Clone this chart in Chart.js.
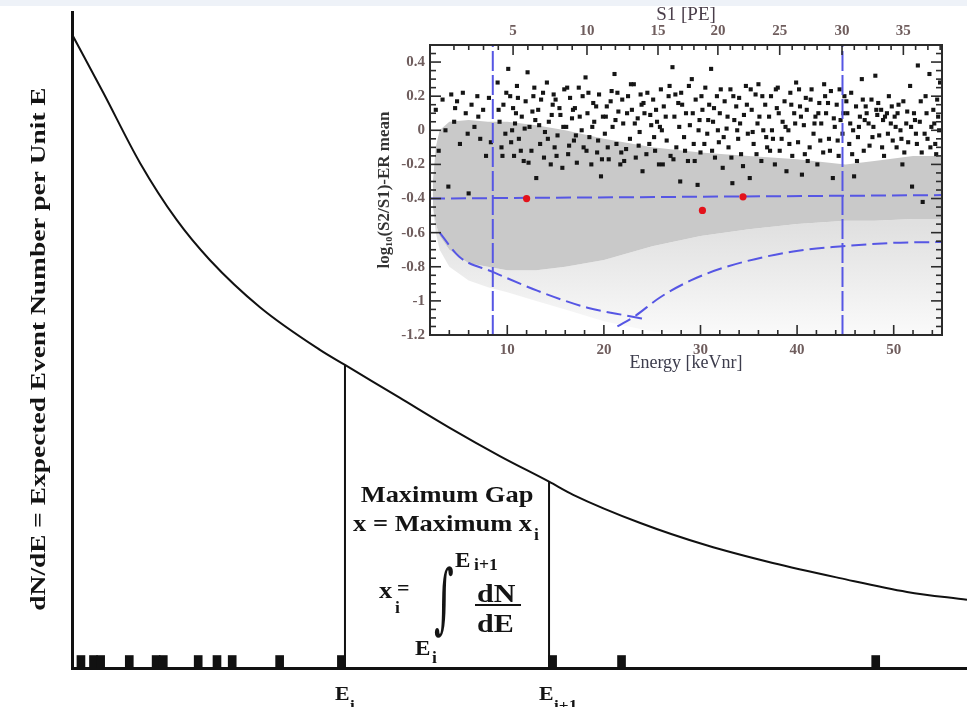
<!DOCTYPE html>
<html>
<head>
<meta charset="utf-8">
<script src="https://cdn.jsdelivr.net/npm/chart.js@4.4.0/dist/chart.umd.min.js"></script>
<style>
  html, body { margin: 0; padding: 0; background: #fff; overflow: hidden; }
  #main { position: absolute; left: 0; top: 0; }
  #strip { position: absolute; left: 0; top: 0; width: 967px; height: 6px; background: #eef2f8; }
  #inset { position: absolute; left: 372px; top: 6px; width: 595px; height: 371px; overflow: hidden; background: #fff; }
  #insetCanvas { position: absolute; left: 0; top: -6px; }
</style>
</head>
<body>
<div id="main"><canvas id="mainCanvas" width="967" height="707"></canvas></div>
<div id="strip"></div>
<div id="inset"><canvas id="insetCanvas" width="595" height="377"></canvas></div>
<script>
// ---- main sketch: expected rate dN/dE against energy (arbitrary units 0..100)
const curveE    = [0, 3.5, 7.6, 11.7, 15.4, 21.0, 27.7, 30.5, 36.6, 42.2, 47.8, 53.3, 56.0, 63.5, 70.9, 78.3, 85.8, 93.3, 100];
const curveRate = [96.6, 87.7, 77.0, 68.3, 62.2, 55.0, 48.5, 46.2, 41.2, 36.6, 32.3, 28.4, 26.4, 22.1, 18.7, 16.0, 13.7, 11.6, 10.4];
// observed events along the energy axis
const eventE = [1.0, 2.4, 3.2, 6.4, 9.4, 10.2, 14.1, 16.2, 17.9, 23.2, 30.1, 53.7, 61.4, 89.8];
// the maximum gap: E_i and E_i+1, and the curve height there
const gapEdges = [30.5, 53.3];
const gapTop   = [46.2, 28.4];
const gapSubs  = ['i', 'i+1'];

// ---- inset: log10(S2/S1) - ER mean against energy [keVnr]
const energyTicks = [10, 20, 30, 40, 50];
const ratioTicks  = [-1.2, -1, -0.8, -0.6, -0.4, -0.2, 0, 0.2, 0.4];
const s1Labels = [5, 10, 15, 20, 25, 30, 35];
const s1Energy = [10.6, 18.25, 25.6, 31.8, 38.2, 44.65, 51.0];
// grey calibration cloud (dense band and sparse tail)
const bandE      = [2.3, 2.6, 3.0, 4.0, 6.0, 8.0, 10.0, 13.0, 16.0, 20.0, 25.0, 30.0, 35.0, 40.0, 45.0, 48.0, 52.0, 55.0];
const bandTop    = [-0.3, -0.1, 0.0, 0.05, 0.06, 0.05, 0.05, 0.03, 0.0, -0.05, -0.1, -0.13, -0.15, -0.17, -0.2, -0.18, -0.15, -0.15];
const bandBottom = [-0.45, -0.55, -0.62, -0.7, -0.78, -0.8, -0.82, -0.82, -0.8, -0.76, -0.68, -0.62, -0.58, -0.55, -0.53, -0.53, -0.52, -0.52];
const tailBottom = [-0.45, -0.6, -0.7, -0.8, -0.88, -0.92, -0.95, -1.0, -1.05, -1.12, -1.18, -1.2, -1.2, -1.2, -1.2, -1.2, -1.2, -1.2];
// blue cut lines
const cutE = [2, 55];
const cutRatio = [-0.4, -0.38];
const windowE = [8.5, 44.7];
const lowCutE     = [3.0, 5.0, 8.5, 13.1, 18.3, 22.7, 24.5];
const lowCutRatio = [-0.6, -0.74, -0.83, -0.94, -1.04, -1.09, -1.11];
const riseCutE     = [21.4, 23.2, 25.8, 29.0, 32.7, 39.6, 44.7, 49.9, 55];
const riseCutRatio = [-1.15, -1.09, -0.98, -0.88, -0.80, -0.71, -0.68, -0.66, -0.655];
// candidate events (red)
const redE = [12.0, 30.2, 34.4];
const redRatio = [-0.4, -0.47, -0.39];
// black events (ER band)
const blackPts = [
  [2.6,0.12],[2.9,-0.12],[3.3,0.18],[3.6,0.0],[3.9,-0.33],[4.2,0.21],[4.5,0.05],[4.8,0.17],[5.1,-0.08],[5.4,0.22],[5.7,0.1],[6.0,-0.37],
  [6.3,0.15],[6.6,0.02],[6.9,0.2],[7.2,-0.05],[7.5,0.12],[7.8,-0.15],[8.1,0.19],[8.3,-0.07],[7.0,0.08],[5.9,-0.02],[4.6,0.13],
  [9.0,0.28],[9.2,0.05],[9.4,-0.1],[9.6,0.15],[9.8,-0.02],
  [10.1,0.36],[10.3,0.2],[10.5,0.0],[10.7,-0.15],[10.9,0.1],
  [11.0,0.26],[11.2,-0.05],[11.5,0.08],[11.7,-0.18],[11.9,0.17],
  [12.1,0.34],[12.3,0.02],[12.5,-0.12],[12.7,0.2],[12.9,0.06],
  [13.0,-0.28],[13.2,0.12],[13.4,-0.08],[13.7,0.22],[13.9,-0.01],
  [14.1,0.28],[14.3,0.05],[14.5,-0.2],[14.7,0.15],[14.9,-0.1],
  [15.0,0.18],[15.2,-0.03],[15.5,0.09],[15.7,-0.22],[15.9,0.24],
  [16.1,0.02],[16.3,-0.14],[16.5,0.19],[16.7,0.07],[16.9,-0.06],
  [17.0,0.13],[17.2,-0.19],[17.4,0.25],[17.7,0.0],[17.9,-0.1],
  [18.1,0.31],[18.3,0.1],[18.5,-0.04],[18.7,-0.2],[18.9,0.16],
  [19.0,0.05],[19.3,-0.13],[19.5,0.21],[19.7,-0.27],[19.9,0.08],
  [20.1,-0.02],[20.3,0.14],[20.5,-0.17],[20.8,0.23],[20.9,0.02],
  [21.1,0.33],[21.3,-0.08],[21.5,0.11],[21.7,-0.2],[21.9,0.18],
  [22.0,0.04],[22.3,-0.11],[22.5,0.2],[22.7,-0.05],[22.9,0.12],
  [23.1,0.27],[23.3,-0.16],[23.5,0.07],[23.7,-0.01],[23.9,0.15],
  [24.0,-0.24],[24.2,0.1],[24.5,0.22],[24.7,-0.08],[24.9,0.03],
  [25.1,0.18],[25.3,-0.12],[25.5,0.05],[25.7,-0.2],[25.9,0.24],
  [26.0,0.0],[26.2,0.14],[26.5,-0.06],[26.7,0.2],[26.9,-0.15],
  [27.1,0.37],[27.3,0.08],[27.5,-0.1],[27.7,0.16],[27.9,-0.3],
  [28.0,0.22],[28.3,-0.04],[28.5,0.1],[28.7,-0.18],[28.9,0.03],
  [29.1,0.3],[29.3,-0.08],[29.5,0.18],[29.7,-0.32],[29.9,0.06],
  [30.0,-0.13],[30.2,0.12],[30.5,0.25],[30.7,-0.02],[30.9,0.15],
  [31.1,0.36],[31.3,0.05],[31.5,-0.16],[31.7,0.2],[31.9,-0.07],
  [32.0,0.1],[32.3,-0.22],[32.5,0.17],[32.7,0.01],[32.9,-0.1],
  [33.1,0.24],[33.3,-0.31],[33.5,0.06],[33.7,0.14],[33.9,-0.05],
  [34.0,0.19],[34.2,-0.14],[34.5,0.09],[34.7,0.26],[34.9,-0.02],
  [35.1,-0.28],[35.3,0.12],[35.5,-0.08],[35.7,0.21],[35.9,0.04],
  [36.0,0.27],[36.3,-0.18],[36.5,0.0],[36.7,0.15],[36.9,-0.1],
  [37.1,0.08],[37.3,0.2],[37.5,-0.05],[37.7,-0.2],[37.9,0.13],
  [38.0,0.25],[38.2,-0.12],[38.5,0.05],[38.7,0.17],[38.9,-0.24],
  [39.1,0.0],[39.3,0.22],[39.5,-0.15],[39.7,0.1],[39.9,0.28],
  [40.1,-0.07],[40.3,0.14],[40.5,-0.26],[40.7,0.03],[40.9,0.19],
  [41.0,0.12],[41.3,-0.1],[41.5,0.24],[41.7,-0.02],[41.9,0.08],
  [42.1,-0.2],[42.3,0.16],[42.5,0.04],[42.7,-0.13],[42.9,0.2],
  [43.0,0.1],[43.3,-0.05],[43.5,0.23],[43.7,-0.28],[43.9,0.02],
  [44.1,0.15],[44.3,-0.15],[44.5,0.06],[44.7,-0.02],[44.9,0.2],
  [45.2,0.1],[45.4,-0.08],[45.6,0.22],[45.8,0.0],[45.9,-0.27],
  [46.1,0.14],[46.3,-0.04],[46.5,0.08],[46.7,0.3],[46.9,-0.12],
  [47.0,0.06],[47.2,0.1],[47.5,-0.09],[47.7,0.18],[47.9,0.02],
  [48.1,0.32],[48.3,0.09],[48.5,-0.03],[48.7,0.12],[48.9,0.06],
  [49.0,-0.15],[49.3,0.1],[49.5,0.2],[49.7,0.04],[49.9,-0.06],
  [50.1,0.08],[50.3,-0.1],[50.5,0.15],[50.7,0.0],[50.9,-0.2],
  [51.0,0.17],[51.3,0.04],[51.5,-0.07],[51.7,0.26],[51.9,-0.33],
  [52.1,0.1],[52.3,-0.02],[52.5,0.38],[52.7,0.05],[52.9,-0.13],
  [53.0,-0.42],[53.3,0.2],[53.5,-0.05],[53.7,0.33],[53.9,0.02],
  [54.1,0.12],[54.3,-0.08],[54.5,0.18],[54.7,0.0],[54.8,0.28],
  [9.1,0.12],[9.5,-0.15],[9.9,0.22],[10.4,-0.07],[10.6,0.13],[10.8,0.04],
  [11.1,0.19],[11.4,-0.12],[11.8,0.01],[12.2,-0.19],[12.6,0.11],[12.8,0.25],
  [13.3,0.03],[13.5,0.18],[13.8,-0.16],[14.2,-0.05],[14.6,0.09],[14.8,0.21],
  [15.1,-0.15],[15.4,0.13],[15.8,0.02],[16.2,0.25],[16.4,-0.09],[16.8,0.12],
  [17.1,-0.03],[17.5,0.08],[17.8,0.2],[18.2,-0.12],[18.4,0.22],[18.8,0.02],
  [19.2,0.14],[19.4,-0.06],[19.8,-0.17],[20.2,0.08],[20.4,-0.1],[20.7,0.17],
  [21.2,0.06],[21.4,0.22],[21.8,-0.13],[22.1,-0.18],[22.4,0.1],[22.8,0.27],
  [23.2,0.04],[23.6,-0.09],[23.8,0.21],[24.1,0.16],[24.4,-0.14],[24.8,0.09],
  [25.2,-0.04],[25.4,0.12],[25.8,0.02],[26.1,-0.2],[26.4,0.08],[26.8,0.26],
  [27.2,-0.17],[27.4,0.21],[27.8,0.02],[28.1,0.15],[28.4,-0.12],[28.8,0.26],
  [29.2,0.1],[29.4,-0.18],[29.8,0.0],[30.1,0.2],[30.4,-0.08],[30.8,0.06],
  [31.2,-0.12],[31.4,0.13],[31.8,0.0],[32.1,0.24],[32.4,-0.04],[32.8,0.08],
  [33.2,-0.16],[33.4,0.2],[33.8,0.0],[34.1,0.04],[34.4,-0.21],[34.8,0.15],
  [35.2,0.24],[35.4,-0.01],[35.8,-0.14],[36.1,0.08],[36.4,0.2],[36.8,-0.04],
  [37.2,-0.12],[37.4,0.0],[37.8,0.24],[38.1,0.1],[38.4,-0.05],[38.8,0.02],
  [39.2,-0.08],[39.4,0.15],[39.8,0.04],[40.2,0.24],[40.4,0.08],[40.8,-0.14],
  [41.1,-0.18],[41.4,0.18],[41.8,0.04],[42.2,0.1],[42.4,-0.06],[42.8,0.27],
  [43.2,0.16],[43.4,-0.12],[43.8,0.07],[44.2,-0.06],[44.4,0.24],[44.8,0.1],
  [45.1,0.17],[45.5,0.04],[45.7,-0.14],[46.2,-0.18],[46.4,0.02],[46.8,0.18],
  [47.1,0.14],[47.4,0.04],[47.8,-0.04],[48.2,0.12],[48.4,0.16],[48.8,-0.1],
  [49.1,0.08],[49.4,-0.02],[49.8,0.14],[50.2,0.02],[50.4,0.1],[50.8,-0.05],
  [51.1,-0.13],[51.4,0.11],[51.8,0.02],[52.2,0.06],[52.4,-0.08],[52.8,0.17],
  [53.2,-0.02],[53.4,0.1],[53.8,-0.1],[54.2,0.04],[54.4,-0.14],[54.6,0.08]
];

const SERIF = '"Liberation Serif", "Times New Roman", serif';
const BLUE = '#5656e4';
const TICK_H = 1.9; // height of an event marker, in y units

const pts = (xs, ys) => xs.map((x, i) => ({ x: x, y: ys[i] }));

// bold serif text, stretched horizontally like the scanned figure
function drawLabel(ctx, str, x, y, size, sx, align) {
    ctx.save();
    ctx.translate(x, y);
    ctx.scale(sx, 1);
    ctx.font = 'bold ' + size + 'px ' + SERIF;
    ctx.textAlign = align || 'left';
    ctx.textBaseline = 'alphabetic';
    ctx.fillText(str, 0, 0);
    ctx.restore();
}

// all the words of the main sketch
const gapText = {
    id: 'gapText',
    afterDraw(chart) {
        const { ctx, chartArea: a, scales: { x } } = chart;
        const xa = x.getPixelForValue(gapEdges[0]);
        const xb = x.getPixelForValue(gapEdges[1]);
        const gx = (xa + xb) / 2;
        const b = a.bottom;
        ctx.save();
        ctx.fillStyle = '#141414';
        ctx.strokeStyle = '#141414';

        ctx.save();
        ctx.translate(a.left - 27, a.top + 337);
        ctx.rotate(-Math.PI / 2);
        drawLabel(ctx, 'dN/dE = Expected Event Number per Unit E', 0, 0, 20, 1.37, 'center');
        ctx.restore();

        drawLabel(ctx, 'Maximum Gap', gx, b - 166, 23, 1.15, 'center');
        drawLabel(ctx, 'x = Maximum x', gx + 85, b - 137, 23, 1.15, 'right');
        drawLabel(ctx, 'i', gx + 87, b - 128, 16, 1.1);

        // x_i = integral from E_i to E_i+1 of dN/dE
        drawLabel(ctx, 'x', gx - 68, b - 70, 23, 1.15);
        drawLabel(ctx, '=', gx - 50, b - 73, 20, 1.1);
        drawLabel(ctx, 'i', gx - 52, b - 55, 16, 1.1);
        ctx.save();
        ctx.translate(gx - 3, b - 64);
        ctx.scale(0.5, 1);
        ctx.font = '76px "DejaVu Serif", serif';
        ctx.textAlign = 'center';
        ctx.textBaseline = 'middle';
        ctx.fillText('\u222B', 0, 0);
        ctx.restore();
        drawLabel(ctx, 'E', gx + 8, b - 101, 21, 1.1);
        drawLabel(ctx, 'i+1', gx + 27, b - 98, 16, 1.1);
        drawLabel(ctx, 'dN', gx + 30, b - 66, 25, 1.2);
        ctx.lineWidth = 2;
        ctx.beginPath();
        ctx.moveTo(gx + 28, b - 63);
        ctx.lineTo(gx + 74, b - 63);
        ctx.stroke();
        drawLabel(ctx, 'dE', gx + 30, b - 36, 25, 1.2);
        drawLabel(ctx, 'E', gx - 32, b - 13, 21, 1.1);
        drawLabel(ctx, 'i', gx - 15, b - 5, 16, 1.1);

        // E_i and E_i+1 under the axis
        gapEdges.forEach((e, i) => {
            const px = x.getPixelForValue(e);
            drawLabel(ctx, 'E', px - 10, b + 32, 19, 1.15);
            drawLabel(ctx, gapSubs[i], px + 5, b + 42, 15, 1.15);
        });
        ctx.restore();
    }
};

new Chart(document.getElementById('mainCanvas'), {
    type: 'line',
    data: {
        datasets: [
            {
                data: pts(curveE, curveRate),
                borderColor: '#111', borderWidth: 2, pointRadius: 0,
                cubicInterpolationMode: 'monotone', fill: false
            },
            ...gapEdges.map((e, i) => ({
                data: [{ x: e, y: 0 }, { x: e, y: gapTop[i] }],
                borderColor: '#111', borderWidth: 2, pointRadius: 0, fill: false
            })),
            {
                type: 'bar',
                data: eventE.map(e => ({ x: e, y: TICK_H })),
                backgroundColor: '#111', barThickness: 8
            }
        ]
    },
    options: {
        responsive: false,
        animation: false,
        layout: { padding: { left: 10, top: 12, right: 0, bottom: 0 } },
        plugins: { legend: { display: false }, tooltip: { enabled: false } },
        scales: {
            x: {
                type: 'linear', min: 0, max: 100, offset: false,
                grid: { display: false }, ticks: { display: false },
                border: { display: true, width: 3, color: '#111' },
                afterFit: s => { s.height = 39; }
            },
            y: {
                type: 'linear', min: 0, max: 100,
                grid: { display: false }, ticks: { display: false },
                border: { display: true, width: 3, color: '#111' },
                afterFit: s => { s.width = 62; }
            }
        }
    },
    plugins: [gapText]
});

// frame with inward ticks on all four sides of the inset
const frameTicks = {
    id: 'frameTicks',
    afterDatasetsDraw(chart) {
        const { ctx, chartArea: a, scales } = chart;
        ctx.save();
        ctx.strokeStyle = '#2b2b2b';
        const tick = (x1, y1, x2, y2) => { ctx.beginPath(); ctx.moveTo(x1, y1); ctx.lineTo(x2, y2); ctx.stroke(); };
        ctx.lineWidth = 1.6;
        for (let k = -23; k <= 9; k++) {
            const py = scales.y.getPixelForValue(k * 0.05);
            const len = k % 4 === 0 ? 11 : 6;
            tick(a.left, py, a.left + len, py);
            tick(a.right, py, a.right - len, py);
        }
        for (let e = 4; e < 55; e += 2) {
            const px = scales.x.getPixelForValue(e);
            tick(px, a.bottom, px, a.bottom - (e % 10 === 0 ? 10 : 5));
        }
        const top = [];
        s1Energy.forEach((e, j) => {
            top.push([e, 10]);
            const next = s1Energy[j + 1];
            const step = next !== undefined ? (next - e) / 5 : (e - s1Energy[j - 1]) / 5;
            for (let m = 1; m < 5; m++) {
                if (next !== undefined || e + m * step < 55) top.push([e + m * step, 5]);
            }
            if (j === 0) {
                for (let m = 1; m < 5; m++) if (e - m * step > 2) top.push([e - m * step, 5]);
            }
        });
        top.forEach(([e, len]) => {
            const px = scales.x.getPixelForValue(e);
            tick(px, a.top, px, a.top + len);
        });
        ctx.lineWidth = 2;
        ctx.strokeRect(a.left, a.top, a.width, a.height);
        ctx.restore();
    }
};

const TICK_COL = '#6f5d5d';
const tickFont = { family: SERIF, size: 15, weight: 'bold' };

new Chart(document.getElementById('insetCanvas'), {
    type: 'line',
    data: {
        datasets: [
            { data: pts(bandE, tailBottom), borderWidth: 0, pointRadius: 0, fill: false, order: 10 },
            {
                data: pts(bandE, bandBottom), borderWidth: 0, pointRadius: 0, fill: 0, order: 9,
                backgroundColor: ctx => {
                    const c = ctx.chart, a = c.chartArea;
                    if (!a) return '#e6e6e6';
                    const g = c.ctx.createLinearGradient(0, c.scales.y.getPixelForValue(-0.55), 0, c.scales.y.getPixelForValue(-1.2));
                    g.addColorStop(0, '#e0e0e0');
                    g.addColorStop(1, '#fafafa');
                    return g;
                }
            },
            { data: pts(bandE, bandTop), borderWidth: 0, pointRadius: 0, fill: 1, backgroundColor: '#c9c9c9', order: 8 },
            {
                data: blackPts.map(p => ({ x: p[0], y: p[1] })), showLine: false,
                pointStyle: 'rect', pointRadius: 2.9, backgroundColor: '#151515', borderWidth: 0, order: 3
            },
            { data: pts(cutE, cutRatio), borderColor: BLUE, borderWidth: 2, borderDash: [15, 6], pointRadius: 0, order: 2 },
            ...windowE.map(e => ({
                data: [{ x: e, y: -1.2 }, { x: e, y: 0.5 }],
                borderColor: BLUE, borderWidth: 2, borderDash: [20, 4], pointRadius: 0, order: 2
            })),
            { data: pts(lowCutE, lowCutRatio), borderColor: BLUE, borderWidth: 2, borderDash: [15, 6], pointRadius: 0, cubicInterpolationMode: 'monotone', order: 2 },
            { data: pts(riseCutE, riseCutRatio), borderColor: BLUE, borderWidth: 2, borderDash: [15, 6], pointRadius: 0, cubicInterpolationMode: 'monotone', order: 2 },
            {
                data: pts(redE, redRatio), showLine: false,
                pointRadius: 3.6, backgroundColor: '#e3121b', borderWidth: 0, order: 1
            }
        ]
    },
    options: {
        responsive: false,
        animation: false,
        layout: { padding: { right: 25 } },
        plugins: { legend: { display: false }, tooltip: { enabled: false } },
        scales: {
            x: {
                type: 'linear', position: 'bottom', min: 2, max: 55,
                afterBuildTicks: s => { s.ticks = energyTicks.map(v => ({ value: v })); },
                grid: { display: false, drawTicks: false }, border: { display: false },
                ticks: { font: tickFont, color: TICK_COL, padding: 6, maxRotation: 0, autoSkip: false },
                title: { display: true, text: 'Energy [keVnr]', color: '#3c3c4c', font: { family: SERIF, size: 18 }, padding: { top: 3, bottom: 3 } },
                afterFit: s => { s.height = 42; }
            },
            x2: {
                type: 'linear', position: 'top', min: 2, max: 55,
                afterBuildTicks: s => { s.ticks = s1Energy.map(v => ({ value: v })); },
                grid: { display: false, drawTicks: false }, border: { display: false },
                ticks: { font: tickFont, color: TICK_COL, padding: 5, maxRotation: 0, autoSkip: false, callback: (v, i) => s1Labels[i] },
                title: { display: true, text: 'S1 [PE]', color: '#4a3e4a', font: { family: SERIF, size: 19 }, padding: { top: 4, bottom: 4 } },
                afterFit: s => { s.height = 45; }
            },
            y: {
                type: 'linear', min: -1.2, max: 0.5,
                afterBuildTicks: s => { s.ticks = ratioTicks.map(v => ({ value: v })); },
                grid: { display: false, drawTicks: false }, border: { display: false },
                ticks: { font: tickFont, color: TICK_COL, padding: 5, autoSkip: false, callback: v => String(v) },
                title: { display: true, text: 'log\u2081\u2080(S2/S1)-ER mean', color: '#333', font: { family: SERIF, size: 17, weight: 'bold' }, padding: { top: 2, bottom: 2 } },
                afterFit: s => { s.width = 58; }
            }
        }
    },
    plugins: [frameTicks]
});
</script>
</body>
</html>
